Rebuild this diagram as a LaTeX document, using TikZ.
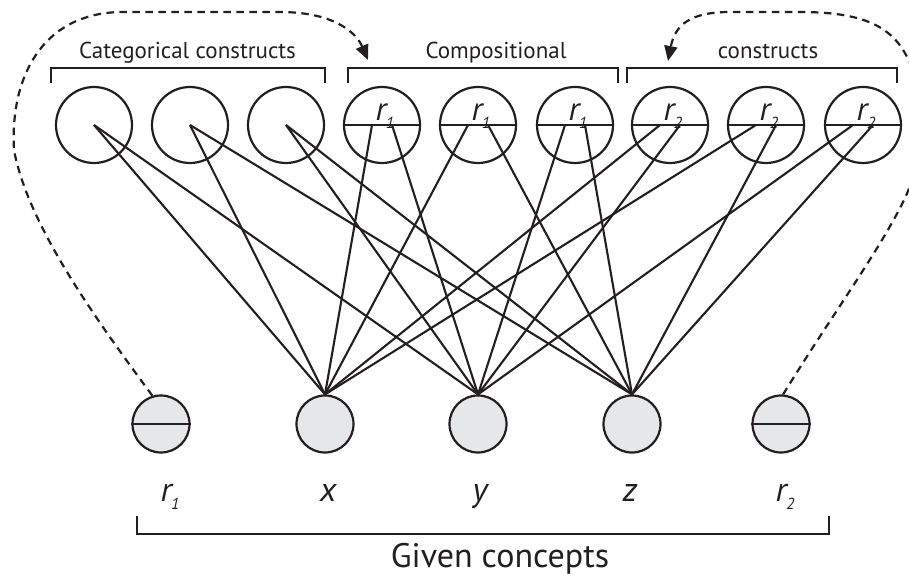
\documentclass[tikz,border=0pt]{standalone}
\usepackage{fontspec}
\setmainfont{PT Sans}
\usetikzlibrary{arrows.meta,calc}
\definecolor{ink}{RGB}{35,31,32}
\definecolor{nodefill}{RGB}{230,231,232}
\newcommand{\rlab}[1]{\textit{r}\kern-0.5pt\raisebox{-8pt}{\fontsize{16}{16}\selectfont\textit{#1}}}
\begin{document}
\begin{tikzpicture}[x=1pt,y=-1pt,
  topc/.style={circle, draw=ink, line width=2.2pt, minimum size=76pt, inner sep=0pt},
  botc/.style={circle, draw=ink, fill=nodefill, line width=2.2pt, minimum size=57pt, inner sep=0pt},
  link/.style={draw=ink, line width=2.1pt},
  brk/.style={draw=ink, line width=2.2pt},
  dlink/.style={draw=ink, line width=2.2pt, dash pattern=on 7.5pt off 5.5pt, -{Triangle[length=15pt,width=13pt]}},
  biglbl/.style={font=\fontsize{34}{40}\selectfont\itshape, anchor=base, inner sep=0pt, text=ink},
  inlbl/.style={font=\fontsize{33}{40}\selectfont\itshape, anchor=base, inner sep=0pt, text=ink},
  head/.style={font=\fontsize{23}{28}\selectfont, anchor=base, inner sep=0pt, text=ink},
  foot/.style={font=\fontsize{34}{40}\selectfont, anchor=base, inner sep=0pt, text=ink}]
\useasboundingbox (0,0) rectangle (909,577);

% top circles
\foreach \i/\xx in {1/94,2/190,3/286,4/382,5/478,6/575,7/670,8/766,9/863}{
  \node[topc] (c\i) at (\xx,125) {};
}
\foreach \i in {4,...,9}{
  \draw[brk] (c\i.west) -- (c\i.east);
  \coordinate (c\i a) at ($(c\i.center)+(-10,0)$);
  \coordinate (c\i b) at ($(c\i.center)+(10,0)$);
}
\foreach \i/\s in {4/1,5/1,6/1,7/2,8/2,9/2}{
  \node[inlbl] (t\i) at ($(c\i.center)+(3,-4)$) {\rlab{\s}};
}

% bottom circles
\node[botc] (r1) at (161,424) {};
\node[botc] (x) at (325,424) {};
\node[botc] (y) at (478,424) {};
\node[botc] (z) at (632,424) {};
\node[botc] (r2) at (781,424) {};
\draw[brk] (r1.west) -- (r1.east);
\draw[brk] (r2.west) -- (r2.east);

% links
\draw[link] (c1.center) -- (x.north);
\draw[link] (c1.center) -- (y.north);
\draw[link] (c2.center) -- (x.north);
\draw[link] (c2.center) -- (z.north);
\draw[link] (c3.center) -- (y.north);
\draw[link] (c3.center) -- (z.north);
\draw[link] (c4a) -- (x.north);
\draw[link] (c4b) -- (y.north);
\draw[link] (c5a) -- (x.north);
\draw[link] (c5b) -- (z.north);
\draw[link] (c6a) -- (y.north);
\draw[link] (c6b) -- (z.north);
\draw[link] (c7a) -- (x.north);
\draw[link] (c7b) -- (y.north);
\draw[link] (c8a) -- (x.north);
\draw[link] (c8b) -- (z.north);
\draw[link] (c9a) -- (y.north);
\draw[link] (c9b) -- (z.north);

% bottom labels
\node[biglbl] (lr1) at (170,501) {\rlab{1}};
\node[biglbl] (lx) at (328,501) {x};
\node[biglbl] (ly) at (480,501) {y};
\node[biglbl] (lz) at (630,501) {z};
\node[biglbl] (lr2) at (785,501) {\rlab{2}};

% brackets
\draw[brk] (51,83) -- (51,68) -- (325,68) -- (325,83);
\draw[brk] (348,83) -- (348,68) -- (618,68) -- (618,83);
\draw[brk] (627,83) -- (627,68) -- (897,68) -- (897,83);
\draw[brk] (137,516) -- (137,534) -- (829,534) -- (829,516);

\node[head] (h1) at (187.5,59) {Categorical constructs};
\node[head] (h2) at (496,59) {Compositional};
\node[head] (h3) at (768,59) {constructs};
\node[foot] (gc) at (500,567) {Given concepts};

% dashed arrows
\coordinate (la) at (368,60);
\coordinate (ra) at (668,61);
\draw[dlink] (r1.107) .. controls (95,318) and (28,225) .. (14,150)
  .. controls (10,80) and (40,14) .. (120,12) -- (280,12)
  .. controls (330,12) and (355,30) .. (la);
\draw[dlink] (r2.86) .. controls (830,318) and (880,250) .. (905,198)
  .. controls (925,155) and (925,85) .. (906,55)
  .. controls (890,25) and (860,12) .. (800,12) -- (730,12)
  .. controls (690,12) and (675,25) .. (ra);
\end{tikzpicture}
\end{document}
